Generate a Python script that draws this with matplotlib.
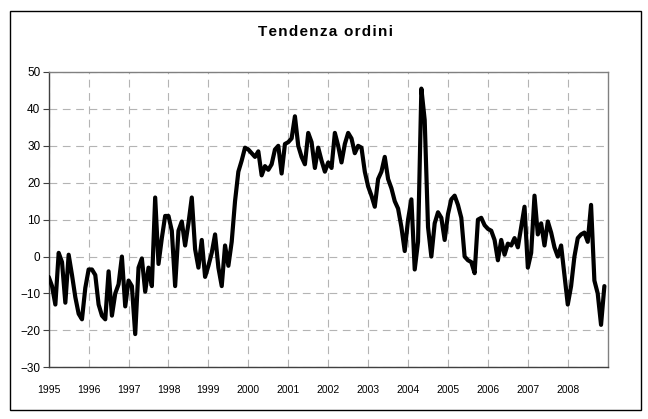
import matplotlib
matplotlib.use("Agg")
import matplotlib.pyplot as plt
from matplotlib.patches import Rectangle

plt.rcParams["font.family"] = ["Liberation Sans", "DejaVu Sans"]

titolo = "Tendenza ordini"
anni = [str(a) for a in range(1995, 2009)]

# monthly values, Jan 1995 .. Dec 2008
ordini_1995 = [-5.5, -8, -13, 1, -1.5, -12.5, 0.5, -5, -11, -15.5, -17, -8.5]
ordini_1996 = [-3.5, -3.5, -5, -13, -16, -17, -4, -16, -10, -7.5, 0, -13.5]
ordini_1997 = [-6.5, -8, -21, -3, -0.5, -9.5, -3, -8, 16, -2, 5, 11]
ordini_1998 = [11, 7, -8, 7, 9.5, 3, 9, 16, 2, -3, 4.5, -5.5]
ordini_1999 = [-2.5, 1, 6, -3, -8, 3, -2.5, 4, 15, 23, 26, 29.5]
ordini_2000 = [29, 28, 27, 28.5, 22, 24.5, 23.5, 25, 29, 30, 22.5, 30.5]
ordini_2001 = [31, 32, 38, 30, 27, 25, 33.5, 31, 24, 29.5, 26, 23]
ordini_2002 = [25.5, 24, 33.5, 30, 25.5, 30.5, 33.5, 32, 28, 30, 29.5, 23]
ordini_2003 = [19, 16.5, 13.5, 21, 23, 27, 21, 18.5, 15, 13, 8, 1.5]
ordini_2004 = [10, 15.5, -3.5, 4, 45.5, 37, 8, 0, 9, 12, 10.5, 4.5]
ordini_2005 = [11.5, 15.5, 16.5, 14, 10.5, 0, -1, -1.5, -4.5, 10, 10.5, 8.5]
ordini_2006 = [7.5, 7, 4.5, -1, 4.5, 0.5, 3.5, 3, 5, 2.5, 8, 13.5]
ordini_2007 = [-3, 1, 16.5, 6, 9, 3, 9.5, 6.5, 2.5, 0, 3, -5]
ordini_2008 = [-13, -8, 0, 5, 6, 6.5, 4, 14, -6.5, -10, -18.5, -8]

ordini = (ordini_1995 + ordini_1996 + ordini_1997 + ordini_1998 + ordini_1999
          + ordini_2000 + ordini_2001 + ordini_2002 + ordini_2003 + ordini_2004
          + ordini_2005 + ordini_2006 + ordini_2007 + ordini_2008)
mesi = list(range(len(ordini)))

W, H = 648, 419
fig = plt.figure(figsize=(W / 100, H / 100), dpi=100)
ax = fig.add_axes([48.7 / W, 1 - 367.3 / H, 559 / W, 295.3 / H])

ax.plot(mesi, ordini, color="black", lw=3.0, solid_joinstyle="round",
        solid_capstyle="round", zorder=3)

ax.set_xlim(0, 168)
ax.set_ylim(-30, 50)
ax.set_yticks(range(-30, 51, 10))
ax.set_xticks(range(0, 168, 12))
ax.set_xticklabels(anni)
ax.tick_params(axis="x", length=0, labelsize=7.5, pad=13)
ax.tick_params(axis="y", length=4, width=0.8, color="#404040", labelsize=8.5, pad=2)

ax.grid(True, color="#b4b4b4", lw=0.8, ls=(0, (7, 5)))
ax.set_axisbelow(True)
for lato in ["top", "right"]:
    ax.spines[lato].set_color("#808080")
    ax.spines[lato].set_linewidth(1.0)
for lato in ["left", "bottom"]:
    ax.spines[lato].set_color("#404040")
    ax.spines[lato].set_linewidth(1.0)

titolo_spaziato = "\u200a".join(titolo)
fig.text(326 / W, 1 - 32 / H, titolo_spaziato, ha="center", va="center",
         fontsize=11, fontweight="bold")

fig.add_artist(Rectangle((10 / W, 1 - 410 / H), 631 / W, 399 / H,
                         transform=fig.transFigure, fill=False,
                         ec="black", lw=1.0))

fig.savefig("out.png", dpi=100)
